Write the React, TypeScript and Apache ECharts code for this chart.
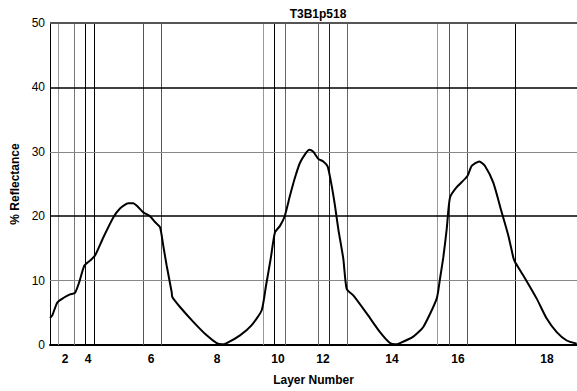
import React, { useEffect, useRef } from "react";
import * as echarts from "echarts";

// x positions are in plot units (0 = left edge of plot, 527 = right edge)
const curveX = [
  0, 2.3, 7.3, 13.3, 20, 25, 29.3, 34.3, 40, 45, 53.3, 63.3, 70, 78.3, 83.3, 88.3, 93.3, 100, 105, 110,
  113.3, 116.7, 121.7, 122.3, 130, 143.3, 156.7, 166.7, 171.7, 176.7, 190, 201.7, 211.7, 216, 220.7, 225, 230,
  234.7, 240, 245, 250, 255, 259.3, 263.3, 268.3, 273.3, 277.7, 281.7, 285, 288.3, 293.3, 296.7, 303.3,
  316.7, 330, 340, 345, 350, 363.3, 373.3, 386.7, 390, 393.3, 396.7, 400, 406.7, 417.3, 421.7, 429.3, 435,
  443.3, 451.7, 458.3, 463.3, 465, 473.3, 486.7, 496.7, 506.7, 516.7, 526.7,
];
const reflectance = [
  4.2, 4.6, 6.6, 7.3, 7.85, 8.1, 9.8, 12.3, 13.1, 13.9, 16.7, 19.8, 21.2, 22.0, 22.0, 21.4, 20.6, 20.0, 19.1, 18.3,
  15.4, 12.3, 8.2, 7.45, 5.9, 3.6, 1.5, 0.3, 0.1, 0.3, 1.5, 3.1, 5.4, 9.2, 13.4, 17.5, 18.5,
  20.0, 23.2, 26.0, 28.3, 29.6, 30.3, 30.0, 28.9, 28.5, 27.7, 24.7, 21.6, 18.0, 13.4, 8.7, 7.7,
  4.9, 2.0, 0.3, 0.1, 0.3, 1.3, 2.8, 7.2, 10.3, 13.6, 18.0, 22.9, 24.5, 26.2, 27.8, 28.5, 27.8,
  25.2, 20.6, 17.0, 13.6, 12.9, 10.8, 7.2, 4.1, 2.0, 0.7, 0.2,
];
const layerBoundaries = [8, 24, 35, 44, 93, 111, 213, 224, 235, 268, 279, 297, 387, 399, 417, 465];
const boundaryColors = [
  "#999", "#777", "#000", "#000", "#555", "#555", "#999", "#000", "#666", "#666", "#222", "#666",
  "#999", "#555", "#555", "#000",
];
const tickPositions = [15, 38, 101, 167, 228, 273, 342, 408, 497];
const tickLabels = ["2", "4", "6", "8", "10", "12", "14", "16", "18"];
const yLevels = [10, 20, 30, 40, 50];
const yLevelColors = ["#888", "#000", "#888", "#000", "#555"];
const yLevelWidths = [1, 1.5, 1, 1.5, 2];

export default function App() {
  const ref = useRef<HTMLDivElement>(null);
  useEffect(() => {
    if (!ref.current) return;
    const chart = echarts.init(ref.current, null, { renderer: "svg" });
    const font = "Liberation Sans";
    const markData: any[] = [];
    layerBoundaries.forEach((x, i) => {
      markData.push({ xAxis: x, lineStyle: { color: boundaryColors[i], width: 1, type: "solid" } });
    });
    yLevels.forEach((y, i) => {
      markData.push({ yAxis: y, lineStyle: { color: yLevelColors[i], width: yLevelWidths[i], type: "solid" } });
    });
    chart.setOption({
      animation: false,
      title: {
        text: "T3B1p518",
        left: 313,
        top: 3,
        textAlign: "center",
        textStyle: { fontFamily: font, fontSize: 12, fontWeight: "bold", color: "#000" },
      },
      grid: { left: 50, right: 0, top: 23, bottom: 44.5, containLabel: false },
      xAxis: {
        type: "value",
        min: 0,
        max: 527,
        name: "Layer Number",
        nameLocation: "middle",
        nameGap: 29,
        nameTextStyle: { fontFamily: font, fontSize: 12, fontWeight: "bold", color: "#000" },
        axisLine: { show: true, lineStyle: { color: "#000", width: 2 } },
        axisTick: { show: false },
        splitLine: { show: false },
        axisLabel: {
          customValues: tickPositions,
          formatter: (v: number) => {
            const i = tickPositions.indexOf(v);
            return i >= 0 ? tickLabels[i] : "";
          },
          margin: 8,
          fontFamily: font,
          fontSize: 12,
          fontWeight: "bold",
          color: "#000",
        },
      },
      yAxis: {
        type: "value",
        min: 0,
        max: 50,
        interval: 10,
        name: "% Reflectance",
        nameLocation: "middle",
        nameGap: 26,
        nameRotate: 90,
        nameTextStyle: { fontFamily: font, fontSize: 12, fontWeight: "bold", color: "#000" },
        axisLine: { show: true, lineStyle: { color: "#000", width: 1 } },
        axisTick: { show: false },
        splitLine: { show: false },
        axisLabel: { margin: 5, fontFamily: font, fontSize: 12, color: "#000" },
      },
      series: [
        {
          type: "line",
          data: curveX.map((x, i) => [x, reflectance[i]]),
          showSymbol: false,
          smooth: 0.2,
          lineStyle: { color: "#000", width: 2 },
          z: 5,
          markLine: {
            silent: true,
            symbol: "none",
            label: { show: false },
            z: 1,
            data: markData,
          },
        },
      ],
    });
    return () => chart.dispose();
  }, []);
  return (
    <div
      ref={ref}
      style={{ position: "fixed", left: 0, top: 0, width: 577, height: 391, background: "#fff" }}
    />
  );
}
